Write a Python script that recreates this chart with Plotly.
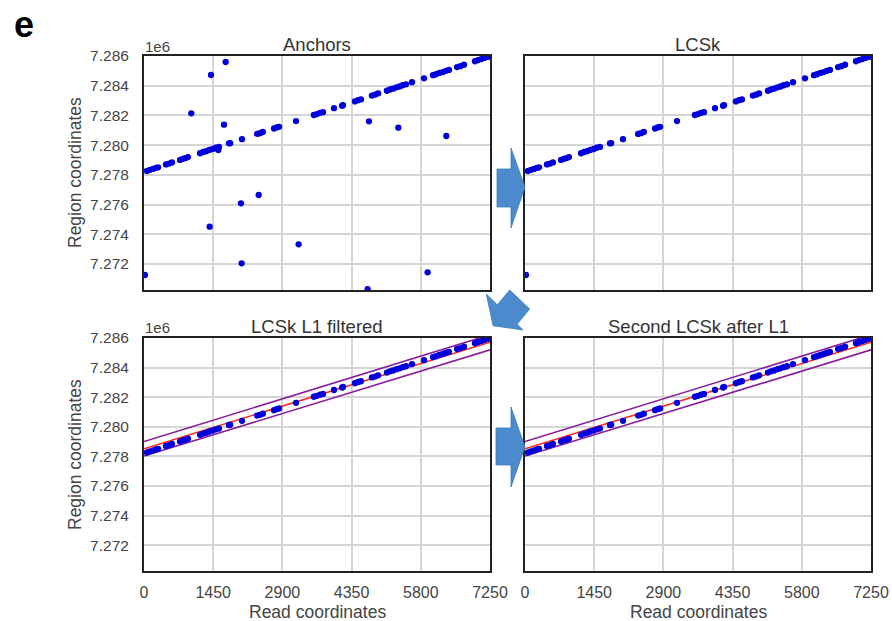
import plotly.graph_objects as go

# ---------------- data ----------------
# anchors lying on the main diagonal (kept by LCSk)
read_x = [60, 125, 190, 250, 295, 460, 525, 585, 755, 815, 870, 920,
          1175, 1240, 1305, 1370, 1440, 1505, 1570, 1780, 1805, 2053,
          2370, 2430, 2490, 2725, 2780, 2830, 3185, 3560, 3625, 3690, 3750,
          3981, 4150, 4170, 4420, 4485, 4545, 4775, 4840, 4905,
          5090, 5155, 5220, 5290, 5355, 5420, 5490, 5616, 5867,
          6055, 6120, 6190, 6260, 6325, 6390, 6560, 6630, 6705,
          6935, 7000, 7070, 7140, 7210, 7250]
region_y = [7278260, 7278340, 7278400, 7278475, 7278510, 7278700, 7278758, 7278835,
            7279005, 7279082, 7279130, 7279195, 7279455, 7279540, 7279595, 7279680,
            7279740, 7279825, 7279880, 7280120, 7280135, 7280400, 7280755, 7280805,
            7280885, 7281120, 7281195, 7281235, 7281620, 7282030, 7282090, 7282172,
            7282222, 7282485, 7282652, 7282688, 7282942, 7283027, 7283078, 7283338,
            7283395, 7283478, 7283662, 7283745, 7283802, 7283890, 7283948, 7284030,
            7284092, 7284240, 7284498, 7284712, 7284770, 7284858, 7284920, 7285002,
            7285060, 7285255, 7285318, 7285410, 7285645, 7285728, 7285790, 7285880,
            7285942, 7285990]

# anchor kept by LCSk but removed by the L1 filter
lcsk_extra_x = [20]
lcsk_extra_y = [7271260]

# spurious anchors (only in "Anchors")
outlier_x = [991, 1376, 1404, 1557, 1676, 1711, 2032, 2046, 2403, 3240, 4686, 4714, 5329, 5943, 6335]
outlier_y = [7282144, 7274512, 7284721, 7279674, 7281377, 7285596, 7276087, 7272048,
             7276645, 7273327, 7270299, 7281605, 7281175, 7271443, 7280616]

# L1 fit line and band
l1_x = [0, 7250]
l1_center = [7278510, 7285720]
l1_upper = [7279000, 7286220]
l1_lower = [7278020, 7285200]

x_ticks = [0, 1450, 2900, 4350, 5800, 7250]
y_ticks = [7272000, 7274000, 7276000, 7278000, 7280000, 7282000, 7284000, 7286000]
y_ticktext = ["7.272", "7.274", "7.276", "7.278", "7.280", "7.282", "7.284", "7.286"]

panel_titles = ["Anchors", "LCSk", "LCSk L1 filtered", "Second LCSk after L1"]

# ---------------- figure ----------------
W, H = 892, 621
L, R, T, B = 144, 21, 56, 50
PW, PH = W - L - R, H - T - B


def P(px, py):
    return (px - L) / PW, (H - B - py) / PH


BLUE = "#0000dd"
RED = "#ff2a1a"
PURPLE = "#8a1c9c"

fig = go.Figure()

def dots(x, y, ax):
    fig.add_trace(go.Scatter(x=x, y=y, mode="markers",
                             marker=dict(color=BLUE, size=6.3, line=dict(width=0)),
                             xaxis="x" + ax, yaxis="y" + ax, showlegend=False,
                             hoverinfo="skip"))

def line(y, color, ax):
    fig.add_trace(go.Scatter(x=l1_x, y=y, mode="lines",
                             line=dict(color=color, width=1.6),
                             xaxis="x" + ax, yaxis="y" + ax, showlegend=False,
                             hoverinfo="skip"))

# panel 1 : anchors
dots(read_x + lcsk_extra_x + outlier_x, region_y + lcsk_extra_y + outlier_y, "")
# panel 2 : LCSk
dots(read_x + lcsk_extra_x, region_y + lcsk_extra_y, "2")
# panel 3 and 4
for ax in ["3", "4"]:
    line(l1_upper, PURPLE, ax)
    line(l1_lower, PURPLE, ax)
    line(l1_center, RED, ax)
    dots(read_x, region_y, ax)

xd_left = [0, 346 / PW]
xd_right = [381 / PW, 1]
yd_top = [(H - B - 290) / PH, 1]
yd_bot = [0, (H - B - 338) / PH]

tickfont = dict(family="Liberation Sans, Arial, sans-serif", size=16, color="#444")
common_x = dict(range=[0, 7250], tickvals=x_ticks, showgrid=True, gridcolor="#d5d5d5",
                gridwidth=1.5, showline=True, mirror=True, linecolor="#222", linewidth=2,
                zeroline=False, ticks="", tickfont=tickfont, ticklabelstandoff=6)
common_y = dict(range=[7270250, 7286000], tickvals=y_ticks, ticktext=y_ticktext,
                showgrid=True, gridcolor="#d5d5d5", gridwidth=1.5, showline=True,
                mirror=True, linecolor="#222", linewidth=2, zeroline=False, ticks="",
                tickfont=dict(tickfont, size=15.5), ticklabelstandoff=10)

fig.update_layout(
    width=W, height=H,
    margin=dict(l=L, r=R, t=T, b=B, autoexpand=False),
    paper_bgcolor="white", plot_bgcolor="white",
    font=dict(family="Liberation Sans, Arial, sans-serif", color="#444"),
    xaxis=dict(common_x, domain=xd_left, anchor="y", showticklabels=False),
    yaxis=dict(common_y, domain=yd_top, anchor="x"),
    xaxis2=dict(common_x, domain=xd_right, anchor="y2", showticklabels=False),
    yaxis2=dict(common_y, domain=yd_top, anchor="x2", showticklabels=False),
    xaxis3=dict(common_x, domain=xd_left, anchor="y3"),
    yaxis3=dict(common_y, domain=yd_bot, anchor="x3"),
    xaxis4=dict(common_x, domain=xd_right, anchor="y4"),
    yaxis4=dict(common_y, domain=yd_bot, anchor="x4", showticklabels=False),
)

ann = []

def text(px, py, s, size, color="#333", xanchor="center", angle=0, bold=False):
    fx, fy = P(px, py)
    ann.append(dict(x=fx, y=fy, xref="paper", yref="paper", text=("<b>%s</b>" % s) if bold else s,
                    showarrow=False, xanchor=xanchor, yanchor="middle", textangle=angle,
                    font=dict(family="Liberation Sans, Arial, sans-serif", size=size, color=color)))

text(24, 25, "e", 36, color="#000", bold=True)
centers = [(317, 45), (698, 45), (317, 326), (698, 326)]
for (cx, cy), t in zip(centers, panel_titles):
    text(cx, cy, t, 18.5)
text(143, 46, "1e6", 15, color="#444", xanchor="left")
text(143, 327, "1e6", 15, color="#444", xanchor="left")
text(75, 173, "Region coordinates", 17.5, color="#444", angle=-90)
text(75, 455, "Region coordinates", 17.5, color="#444", angle=-90)
text(317, 612, "Read coordinates", 17.5, color="#444")
text(698, 612, "Read coordinates", 17.5, color="#444")
fig.update_layout(annotations=ann)

# block arrows between panels
def path(points):
    s = ""
    for i, (px, py) in enumerate(points):
        fx, fy = P(px, py)
        s += ("M" if i == 0 else "L") + "%.5f,%.5f " % (fx, fy)
    return s + "Z"

arrow_right_1 = [(497, 169), (511, 169), (511, 148), (525, 187), (511, 228), (511, 207), (497, 207)]
arrow_right_2 = [(496, 428), (511, 428), (511, 407), (525, 447), (511, 487), (511, 465), (496, 465)]
arrow_diag = [(509.7, 290), (497.4, 304.8), (486.3, 294), (493, 325.7), (523, 330),
              (517.2, 324.1), (529.7, 309)]
shapes = []
for pts in [arrow_right_1, arrow_right_2, arrow_diag]:
    shapes.append(dict(type="path", path=path(pts), xref="paper", yref="paper",
                       fillcolor="#4a8acd", line=dict(color="#3e7dbf", width=0.8), layer="above"))
fig.update_layout(shapes=shapes)

fig.write_html("out.html")
